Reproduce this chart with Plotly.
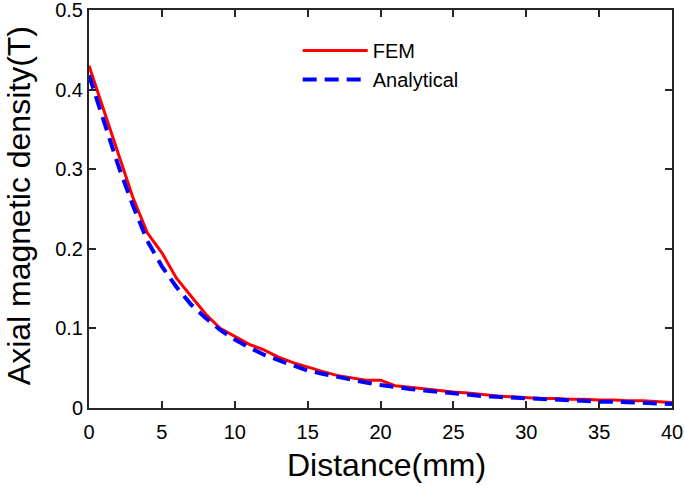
import plotly.graph_objects as go

distance = list(range(0, 41))
fem = [0.430, 0.375, 0.320, 0.265, 0.220, 0.195, 0.163, 0.140, 0.118, 0.100,
       0.090, 0.080, 0.073, 0.064, 0.057, 0.051, 0.046, 0.041, 0.038, 0.035,
       0.035, 0.028, 0.026, 0.024, 0.022, 0.020, 0.019, 0.017, 0.015, 0.014,
       0.013, 0.012, 0.012, 0.011, 0.011, 0.010, 0.010, 0.009, 0.009, 0.008,
       0.007]
analytical = [0.418, 0.360, 0.305, 0.255, 0.210, 0.178, 0.152, 0.130, 0.113, 0.098,
              0.086, 0.076, 0.067, 0.060, 0.053, 0.047, 0.043, 0.039, 0.035, 0.032,
              0.029, 0.026, 0.024, 0.022, 0.020, 0.018, 0.017, 0.015, 0.014, 0.013,
              0.012, 0.011, 0.010, 0.010, 0.009, 0.008, 0.008, 0.007, 0.006, 0.006,
              0.005]
x_ticks = [0, 5, 10, 15, 20, 25, 30, 35, 40]
y_ticks = [0, 0.1, 0.2, 0.3, 0.4, 0.5]
y_tick_labels = ["0", "0.1", "0.2", "0.3", "0.4", "0.5"]

fig = go.Figure()
fig.add_trace(go.Scatter(x=distance, y=fem, mode="lines", name="FEM",
                         line=dict(color="#ff0000", width=3)))
fig.add_trace(go.Scatter(x=distance, y=analytical, mode="lines", name="Analytical",
                         line=dict(color="#0000ff", width=4, dash="14px,8px")))

font_family = "Liberation Sans, Arial, sans-serif"
axis_common = dict(showline=True, linecolor="#262626", linewidth=2, mirror="ticks",
                   ticks="inside", ticklen=7, tickwidth=2, tickcolor="#262626",
                   showgrid=False, zeroline=False, automargin=False,
                   ticklabeloverflow="allow",
                   tickfont=dict(family=font_family, size=20, color="#000000"))

fig.update_layout(
    width=685, height=488,
    margin=dict(l=89, r=13, t=10, b=80),
    plot_bgcolor="white", paper_bgcolor="white",
    font=dict(family=font_family, color="#000000"),
    xaxis=dict(range=[0, 40], tickvals=x_ticks, ticklabelstandoff=5, **axis_common),
    yaxis=dict(range=[0, 0.5], tickvals=y_ticks, ticktext=y_tick_labels, **axis_common),
    legend=dict(x=0.358, y=0.947, xanchor="left", yanchor="top",
                bgcolor="rgba(255,255,255,0)", font=dict(size=20, family=font_family),
                itemwidth=65, tracegroupgap=0),
    showlegend=True,
)

fig.add_annotation(text="Distance(mm)", xref="paper", yref="paper", x=0.51, y=0,
                   xanchor="center", yanchor="middle", yshift=-57, showarrow=False,
                   font=dict(size=32, family=font_family, color="#000000"))
fig.add_annotation(text="Axial magnetic density(T)", xref="paper", yref="paper", x=0, y=0.507,
                   xanchor="center", yanchor="middle", xshift=-70, textangle=-90,
                   showarrow=False, font=dict(size=32, family=font_family, color="#000000"))

fig.write_html("out.html", config={"displayModeBar": False},
               post_script="document.body.style.margin='0';")
